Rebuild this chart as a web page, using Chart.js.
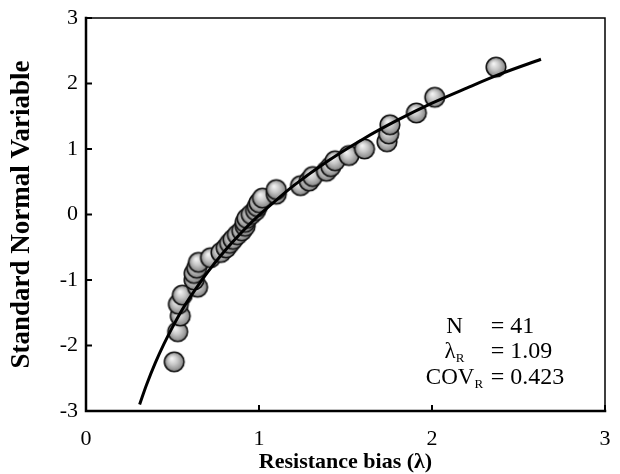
<!DOCTYPE html>
<html>
<head>
<meta charset="utf-8">
<script src="https://cdn.jsdelivr.net/npm/chart.js@4.4.1/dist/chart.umd.min.js"></script>
<style>
html,body{margin:0;padding:0;background:#fff;}
#wrap{width:620px;height:474px;position:relative;}
</style>
</head>
<body>
<div id="wrap"><canvas id="c" width="620" height="474"></canvas></div>
<script>
// Observed data: resistance bias (x) vs standard normal variable (y)
const biasValues = [0.51,0.53,0.545,0.534,0.557,0.645,0.625,0.625,0.64,0.65,0.72,0.78,0.81,0.83,0.85,0.875,0.90,0.92,0.92,0.93,0.955,0.98,0.99,1.00,1.02,1.10,1.10,1.24,1.29,1.31,1.39,1.415,1.44,1.52,1.61,1.74,1.75,1.757,1.91,2.016,2.37];
const snvValues  = [-2.25,-1.79,-1.55,-1.37,-1.23,-1.11,-1.00,-0.90,-0.82,-0.73,-0.66,-0.58,-0.51,-0.44,-0.38,-0.31,-0.25,-0.18,-0.12,-0.06,0.00,0.06,0.12,0.18,0.25,0.31,0.38,0.44,0.51,0.58,0.66,0.73,0.82,0.90,1.00,1.11,1.23,1.37,1.55,1.79,2.25];
// Fitted lognormal curve
const curveX = [0.31,0.35,0.40,0.45,0.50,0.55,0.60,0.70,0.80,0.90,1.00,1.10,1.20,1.40,1.60,1.80,2.00,2.20,2.40,2.63];
const curveY = [-2.90,-2.60,-2.27,-1.98,-1.72,-1.48,-1.27,-0.89,-0.56,-0.27,-0.01,0.22,0.44,0.82,1.15,1.44,1.70,1.93,2.15,2.37];
const xTicks = [0,1,2,3];
const yTicks = [-3,-2,-1,0,1,2,3];
const statLabels = ["N","λ|R","COV|R"];
const statValues = ["= 41","= 1.09","= 0.423"];
const statRows = [-1.72,-2.10,-2.49];

const PAD = {left:2, right:15, top:18, bottom:-2};
const SERIF = "'Liberation Serif','Times New Roman',serif";

function makeSphere(r){
  const s = Math.ceil(r*2+4);
  const cv = document.createElement('canvas');
  cv.width = s; cv.height = s;
  const g = cv.getContext('2d');
  const cx = s/2, cy = s/2;
  const grad = g.createRadialGradient(cx-2.5, cy-3.5, 0.5, cx, cy, r);
  grad.addColorStop(0, '#f4f4f4');
  grad.addColorStop(0.45, '#c8c8c8');
  grad.addColorStop(1, '#828282');
  g.beginPath();
  g.arc(cx, cy, r, 0, Math.PI*2);
  g.fillStyle = grad;
  g.fill();
  g.lineWidth = 1.6;
  g.strokeStyle = '#111';
  g.stroke();
  return cv;
}
const sphere = makeSphere(9.8);

const framePlugin = {
  id:'frame',
  afterDatasetsDraw(chart){
    const {ctx, chartArea:a, scales} = chart;
    ctx.save();
    ctx.strokeStyle = '#000';
    ctx.lineCap = 'square';
    ctx.lineWidth = 1.5;
    ctx.beginPath();
    ctx.moveTo(a.left, a.top); ctx.lineTo(a.right, a.top); ctx.lineTo(a.right, a.bottom);
    ctx.stroke();
    ctx.lineWidth = 2.5;
    ctx.beginPath();
    ctx.moveTo(a.left, a.top); ctx.lineTo(a.left, a.bottom); ctx.lineTo(a.right, a.bottom);
    ctx.stroke();
    ctx.lineWidth = 2;
    ctx.lineCap = 'butt';
    ctx.beginPath();
    xTicks.forEach(v=>{
      const px = scales.x.getPixelForValue(v);
      ctx.moveTo(px, a.bottom); ctx.lineTo(px, a.bottom-6);
    });
    yTicks.forEach(v=>{
      const py = scales.y.getPixelForValue(v);
      ctx.moveTo(a.left, py); ctx.lineTo(a.left+6, py);
    });
    ctx.stroke();
    ctx.fillStyle = '#000';
    ctx.textBaseline = 'middle';
    const big = "23px " + SERIF, small = "13px " + SERIF;
    statLabels.forEach((lab,i)=>{
      const py = scales.y.getPixelForValue(statRows[i]);
      const cx = scales.x.getPixelForValue(2.13);
      const parts = lab.split('|');
      ctx.font = big;
      const w1 = ctx.measureText(parts[0]).width;
      let w2 = 0;
      if(parts[1]){ ctx.font = small; w2 = ctx.measureText(parts[1]).width; }
      const x0 = cx - (w1+w2)/2;
      ctx.font = big;
      ctx.textAlign = 'left';
      ctx.fillText(parts[0], x0, py);
      if(parts[1]){ ctx.font = small; ctx.fillText(parts[1], x0+w1, py+7); }
      ctx.font = "24px " + SERIF;
      ctx.fillText(statValues[i], scales.x.getPixelForValue(2.34), py);
    });
    ctx.restore();
  }
};

new Chart(document.getElementById('c'), {
  type:'scatter',
  data:{
    datasets:[
      {
        label:'Lognormal fit',
        data: curveX.map((x,i)=>({x, y:curveY[i]})),
        showLine:true,
        borderColor:'#000',
        borderWidth:3,
        pointRadius:0,
        cubicInterpolationMode:'monotone',
        order:0
      },
      {
        label:'Data',
        data: biasValues.map((x,i)=>({x, y:snvValues[i]})),
        pointStyle: sphere,
        pointRadius:9.8,
        order:1
      }
    ]
  },
  options:{
    responsive:false,
    animation:false,
    events:[],
    layout:{padding:PAD},
    plugins:{legend:{display:false}, tooltip:{enabled:false}},
    scales:{
      x:{
        type:'linear', min:0, max:3,
        afterBuildTicks(s){ s.ticks = xTicks.map(v=>({value:v})); },
        afterFit(s){ s.height = 474 - 411 - PAD.bottom; s.paddingLeft = 0; s.paddingRight = 0; },
        grid:{display:false, drawTicks:false},
        border:{display:false},
        ticks:{padding:15, color:'#000', font:{family:SERIF, size:22}, maxRotation:0},
        title:{display:true, text:'Resistance bias (λ)', color:'#000', font:{family:SERIF, size:22, weight:'bold'}, padding:{top:0,bottom:0}}
      },
      y:{
        type:'linear', min:-3, max:3,
        afterBuildTicks(s){ s.ticks = yTicks.map(v=>({value:v})); },
        afterFit(s){ s.width = 86 - PAD.left; s.paddingTop = 0; s.paddingBottom = 0; },
        grid:{display:false, drawTicks:false},
        border:{display:false},
        ticks:{padding:8, color:'#000', font:{family:SERIF, size:22}},
        title:{display:true, text:'Standard Normal Variable', color:'#000', font:{family:SERIF, size:27, weight:'bold'}, padding:{top:4,bottom:4}}
      }
    }
  },
  plugins:[framePlugin]
});
</script>
</body>
</html>
